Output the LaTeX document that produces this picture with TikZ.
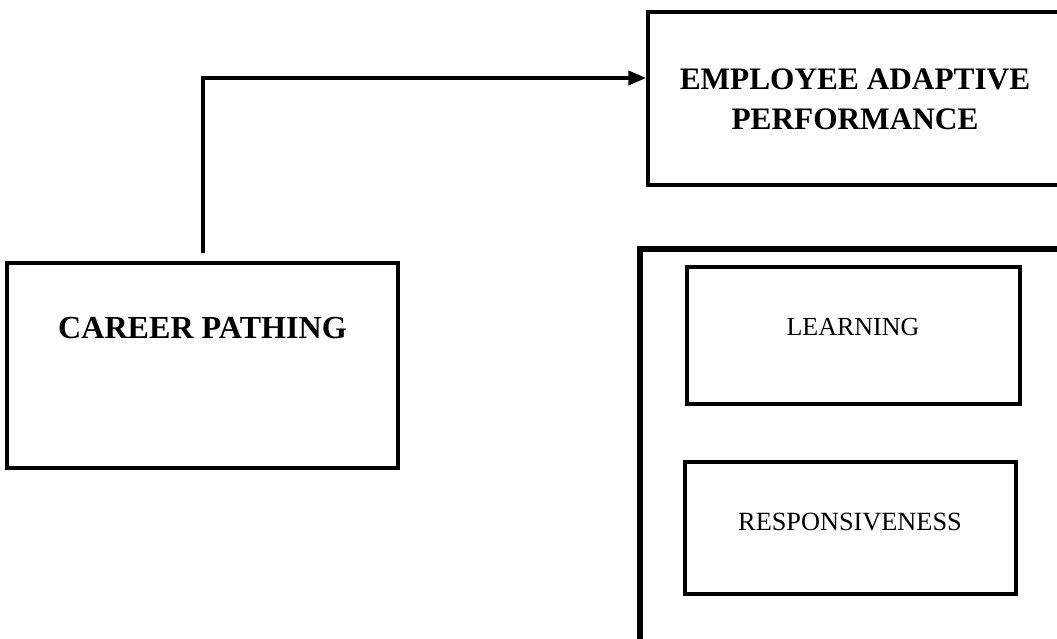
\documentclass[tikz,border=0pt]{standalone}
\usepackage{fontspec}
\setmainfont{Liberation Serif}
\usetikzlibrary{arrows.meta}
\begin{document}
\begin{tikzpicture}[x=1pt,y=-1pt,
  box/.style={draw=black,rectangle,inner sep=0pt,fill=none},
  bigtxt/.style={font=\fontsize{32.1}{40}\selectfont\bfseries,align=center,inner sep=0pt},
  smalltxt/.style={font=\fontsize{26.3}{32}\selectfont,inner sep=0pt},
  link/.style={line width=4pt,-{Triangle[length=18pt,width=14pt]}}]
\useasboundingbox (0,0) rectangle (1057,638);
\clip (0,0) rectangle (1057,638);
\fill[white] (0,0) rectangle (1057,638);
% Employee adaptive performance
\node[box,line width=3.5pt,minimum width=414pt,minimum height=173pt] (eap) at (855,98.5) {};
\node[bigtxt,font=\fontsize{31.3}{40}\selectfont\bfseries] (eapt) at (855,99) {EMPLOYEE ADAPTIVE\\PERFORMANCE};
% Career pathing
\node[box,line width=4pt,minimum width=391pt,minimum height=205pt] (cpbox) at (202.5,365.5) {};
\node[bigtxt] (cp) at (202.5,328) {CAREER PATHING};
% outer dimension box
\node[box,line width=6pt,minimum width=422pt,minimum height=420pt] (outer) at (851,459) {};
\node[box,line width=4pt,minimum width=333pt,minimum height=137pt] (learnbox) at (853.5,335.5) {};
\node[smalltxt,font=\fontsize{26}{32}\selectfont] (learn) at (853,327) {LEARNING};
\node[box,line width=4pt,minimum width=331pt,minimum height=132pt] (respbox) at (850.5,528) {};
\node[smalltxt] (resp) at (850,522) {RESPONSIVENESS};
% connector
\coordinate (start) at ([yshift=8pt]cpbox.north);
\coordinate (turn) at (202.5,78);
\coordinate (tip) at (eap.west |- turn);
\draw[link] (start) -- (turn) -- (tip);
\end{tikzpicture}
\end{document}
